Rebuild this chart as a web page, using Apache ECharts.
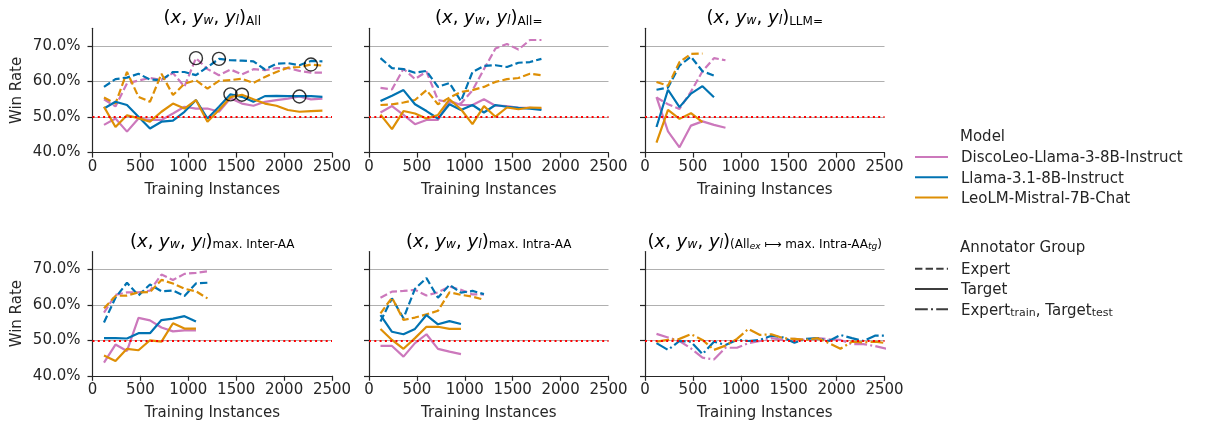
<!DOCTYPE html>
<html>
<head>
<meta charset="utf-8">
<script src="https://cdn.jsdelivr.net/npm/echarts@6/dist/echarts.min.js"></script>
<style>
  html, body { margin: 0; padding: 0; background: #fff; }
  #chart { width: 1210px; height: 429px; }
</style>
</head>
<body>
<div id="chart"></div>
<script>
// training set sizes (x positions of every point)
const xSteps = [120, 240, 360, 480, 600, 720, 840, 960, 1080, 1200, 1320, 1440, 1560, 1680, 1800, 1920, 2040, 2160, 2280, 2400, 2520];
const xTicks = [0, 500, 1000, 1500, 2000, 2500];
const yTicks = [40, 50, 60, 70];
const chanceLevel = 50;

const models = ['DiscoLeo-Llama-3-8B-Instruct', 'Llama-3.1-8B-Instruct', 'LeoLM-Mistral-7B-Chat'];
const groups = ['Expert', 'Target', 'Expert_train, Target_test'];

// (x, yw, yl)_All
const allDiscoExpert = [55.0, 53.0, 59.5, 60.3, 61.0, 60.5, 62.4, 58.6, 66.6, 63.5, 61.8, 63.4, 62.0, 63.5, 63.2, 63.8, 63.8, 63.0, 62.5, 62.5];
const allLlamaExpert = [58.5, 60.7, 61.1, 62.2, 60.6, 60.4, 62.7, 62.7, 61.8, 64.1, 66.4, 66.0, 65.9, 65.7, 63.4, 65.0, 65.2, 64.6, 65.8, 65.7];
const allLeoExpert = [55.5, 53.8, 62.7, 55.7, 54.3, 62.2, 56.2, 59.4, 60.4, 58.0, 60.2, 60.4, 60.8, 59.6, 61.3, 62.7, 63.9, 64.1, 64.8, 64.5];
const allDiscoTarget = [47.8, 49.6, 45.9, 49.6, 49.2, 49.2, 51.0, 52.9, 52.4, 52.4, 51.5, 55.3, 53.8, 53.2, 54.3, 54.8, 55.2, 55.8, 55.0, 55.2];
const allLlamaTarget = [52.4, 54.3, 53.4, 50.1, 46.8, 48.7, 49.0, 51.5, 54.8, 49.6, 52.9, 56.4, 55.7, 54.3, 55.9, 56.0, 55.9, 55.9, 55.9, 55.7];
const allLeoTarget = [52.9, 47.2, 50.5, 49.7, 48.7, 51.5, 53.8, 52.4, 54.8, 48.7, 52.0, 55.6, 56.3, 55.0, 53.8, 53.2, 52.0, 51.5, 51.7, 51.8];

// (x, yw, yl)_All=
const eqDiscoExpert = [58.2, 57.8, 63.6, 60.7, 62.8, 54.8, 54.2, 53.8, 57.5, 63.5, 69.3, 70.6, 69.0, 71.7, 71.7];
const eqLlamaExpert = [66.6, 63.8, 63.5, 62.5, 63.0, 58.5, 59.6, 54.5, 62.7, 64.4, 64.6, 64.1, 65.3, 65.5, 66.4];
const eqLeoExpert = [53.4, 53.6, 54.1, 54.8, 57.6, 53.6, 55.5, 57.1, 57.6, 58.5, 59.9, 60.7, 61.0, 62.2, 61.8];
const eqDiscoTarget = [51.3, 53.1, 50.6, 48.0, 49.2, 49.2, 54.5, 53.4, 53.4, 55.0, 53.2, 53.1, 52.6, 52.6, 52.4];
const eqLlamaTarget = [54.5, 56.0, 57.6, 53.6, 51.7, 49.6, 53.6, 52.0, 53.4, 51.3, 53.4, 52.9, 52.6, 52.4, 52.0];
const eqLeoTarget = [50.7, 46.6, 51.7, 51.0, 49.6, 50.6, 55.0, 52.2, 48.0, 53.1, 50.1, 52.7, 52.2, 52.7, 52.6];

// (x, yw, yl)_LLM=
const llmDiscoExpert = [55.5, 53.6, 52.3, 57.2, 62.9, 66.6, 66.0];
const llmLlamaExpert = [57.7, 58.3, 64.5, 67.0, 62.9, 61.7];
const llmLeoExpert = [59.9, 58.8, 65.5, 67.8, 67.9];
const llmDiscoTarget = [55.6, 46.0, 41.5, 47.6, 48.8, 47.8, 47.0];
const llmLlamaTarget = [47.2, 57.7, 52.8, 56.6, 58.7, 55.6];
const llmLeoTarget = [42.8, 52.0, 49.5, 51.1, 48.6];

// (x, yw, yl)_max. Inter-AA
const interDiscoExpert = [57.8, 62.8, 63.5, 63.5, 64.0, 68.5, 67.0, 68.7, 69.0, 69.4];
const interLlamaExpert = [55.0, 62.0, 66.2, 62.6, 65.7, 63.8, 64.0, 62.5, 66.0, 66.2];
const interLeoExpert = [59.0, 62.5, 62.6, 63.5, 63.6, 67.0, 66.0, 64.5, 63.8, 61.8];
const interDiscoTarget = [43.7, 48.8, 47.0, 56.3, 55.6, 53.6, 52.5, 52.8, 52.8];
const interLlamaTarget = [50.6, 50.6, 50.5, 52.0, 52.0, 55.7, 56.1, 56.8, 55.3];
const interLeoTarget = [45.7, 44.2, 47.6, 47.2, 50.0, 49.6, 54.8, 53.3, 53.3];

// (x, yw, yl)_max. Intra-AA
const intraDiscoExpert = [62.0, 63.7, 63.9, 64.2, 62.6, 63.5, 65.1, 64.2, 62.9, 62.9];
const intraLlamaExpert = [55.3, 61.8, 56.2, 64.5, 67.5, 62.0, 65.6, 63.4, 63.9, 63.0];
const intraLeoExpert = [57.6, 62.0, 55.7, 56.4, 57.3, 58.3, 63.5, 62.8, 62.3, 61.4];
const intraDiscoTarget = [48.4, 48.4, 45.4, 49.2, 51.7, 47.6, 46.8, 46.1];
const intraLlamaTarget = [57.1, 52.4, 51.7, 53.2, 57.1, 54.5, 55.4, 54.6];
const intraLeoTarget = [53.2, 50.1, 47.6, 50.6, 53.8, 53.8, 53.2, 53.2];

// (x, yw, yl)_(All_ex -> max. Intra-AA_tg)
const crossDisco = [51.8, 50.8, 49.8, 47.7, 45.1, 44.6, 47.9, 47.9, 49.2, 49.8, 50.6, 50.1, 50.4, 50.1, 50.6, 50.3, 50.1, 48.9, 48.9, 48.4, 47.6];
const crossLlama = [49.2, 47.3, 49.8, 49.6, 46.1, 49.6, 48.7, 50.1, 49.8, 50.1, 51.3, 50.8, 49.3, 50.4, 50.6, 49.8, 51.5, 50.6, 49.8, 51.3, 51.3];
const crossLeo = [49.6, 50.1, 50.4, 51.7, 50.1, 47.3, 48.5, 50.4, 53.2, 51.5, 51.7, 50.6, 50.4, 50.1, 50.6, 49.2, 47.6, 49.6, 49.4, 49.6, 49.2];

const F = 'DejaVu Sans';
const INK = '#262626';
const colors = ['#cc78bc', '#0173b2', '#de8f05'];
const dashes = { expert: [7.4, 3.2], target: 'solid', cross: [12.8, 3.2, 2, 3.2] };

const head = '{p|(}{i|x}{p|, }{i|y}{si|w}{p|, }{i|y}{si|l}{p|)}';
const panels = [
    { title: head + '{s|All}', circles: true,
      lines: [[allDiscoExpert, 0, 'expert'], [allLlamaExpert, 1, 'expert'], [allLeoExpert, 2, 'expert'],
              [allDiscoTarget, 0, 'target'], [allLlamaTarget, 1, 'target'], [allLeoTarget, 2, 'target']] },
    { title: head + '{s|All=}',
      lines: [[eqDiscoExpert, 0, 'expert'], [eqLlamaExpert, 1, 'expert'], [eqLeoExpert, 2, 'expert'],
              [eqDiscoTarget, 0, 'target'], [eqLlamaTarget, 1, 'target'], [eqLeoTarget, 2, 'target']] },
    { title: head + '{s|LLM=}',
      lines: [[llmDiscoExpert, 0, 'expert'], [llmLlamaExpert, 1, 'expert'], [llmLeoExpert, 2, 'expert'],
              [llmDiscoTarget, 0, 'target'], [llmLlamaTarget, 1, 'target'], [llmLeoTarget, 2, 'target']] },
    { title: head + '{s|max. Inter-AA}',
      lines: [[interDiscoExpert, 0, 'expert'], [interLlamaExpert, 1, 'expert'], [interLeoExpert, 2, 'expert'],
              [interDiscoTarget, 0, 'target'], [interLlamaTarget, 1, 'target'], [interLeoTarget, 2, 'target']] },
    { title: head + '{s|max. Intra-AA}',
      lines: [[intraDiscoExpert, 0, 'expert'], [intraLlamaExpert, 1, 'expert'], [intraLeoExpert, 2, 'expert'],
              [intraDiscoTarget, 0, 'target'], [intraLlamaTarget, 1, 'target'], [intraLeoTarget, 2, 'target']] },
    { title: head + '{s|(All}{ss|ex}{s| \u27FC max. Intra-AA}{ss|tg}{s|)}',
      lines: [[crossDisco, 0, 'cross'], [crossLlama, 1, 'cross'], [crossLeo, 2, 'cross']] }
];

const titleRich = {
    p: { fontFamily: F, fontSize: 18, lineHeight: 26, color: INK, verticalAlign: 'bottom' },
    i: { fontFamily: F, fontSize: 18, lineHeight: 26, color: INK, fontStyle: 'italic', verticalAlign: 'bottom' },
    si: { fontFamily: F, fontSize: 12.5, lineHeight: 17, color: INK, fontStyle: 'italic', verticalAlign: 'bottom' },
    s: { fontFamily: F, fontSize: 12, lineHeight: 17, color: INK, verticalAlign: 'bottom' },
    ss: { fontFamily: F, fontSize: 9, lineHeight: 8, color: INK, fontStyle: 'italic', verticalAlign: 'bottom' }
};

const gridLefts = [92.5, 369, 645];
const gridTops = [28.3, 251.5];
const gridW = 239.5, gridH = 124.3;

const grids = [], xAxes = [], yAxes = [], series = [], graphics = [];

panels.forEach(function (p, idx) {
    const col = idx % 3, row = Math.floor(idx / 3);
    grids.push({ left: gridLefts[col], top: gridTops[row], width: gridW, height: gridH,
                 containLabel: false, outerBoundsMode: 'none' });
    xAxes.push({
        gridIndex: idx, type: 'value', min: 0, max: 2500, interval: 500,
        axisLine: { show: true, onZero: false, lineStyle: { color: INK, width: 1.2 } },
        axisTick: { show: true, length: 5, lineStyle: { color: INK, width: 1.2 }, customValues: xTicks },
        axisLabel: { color: INK, fontFamily: F, fontSize: 15, margin: 7, customValues: xTicks,
                     formatter: function (v) { return String(v); } },
        splitLine: { show: false },
        name: 'Training Instances', nameLocation: 'middle', nameGap: 30,
        nameTextStyle: { color: INK, fontFamily: F, fontSize: 15 }
    });
    yAxes.push({
        gridIndex: idx, type: 'value', min: 40, max: 75,
        axisLine: { show: true, lineStyle: { color: INK, width: 1.2 } },
        axisTick: { show: true, length: 5, lineStyle: { color: INK, width: 1.2 }, customValues: yTicks },
        axisLabel: { show: col === 0, color: INK, fontFamily: F, fontSize: 15, margin: 12,
                     customValues: yTicks, formatter: function (v) { return v.toFixed(1) + '%'; } },
        splitLine: { show: true, lineStyle: { color: '#b0b0b0', width: 1 } },
        name: col === 0 ? 'Win Rate' : '', nameLocation: 'middle', nameGap: 68,
        nameTextStyle: { color: INK, fontFamily: F, fontSize: 15 }
    });

    const marks = [];
    p.lines.forEach(function (ln, k) {
        const vals = ln[0], m = ln[1], style = ln[2];
        series.push({
            type: 'line', name: 'p' + idx + '-' + k, xAxisIndex: idx, yAxisIndex: idx,
            data: vals.map(function (v, i) { return [xSteps[i], v]; }),
            symbol: 'none', showSymbol: false, clip: true, z: 2,
            lineStyle: { color: colors[m], width: 2.2, type: dashes[style] },
            itemStyle: { color: colors[m] }, silent: true
        });
        if (p.circles) {
            let best = 0;
            vals.forEach(function (v, i) { if (v > vals[best]) best = i; });
            marks.push([xSteps[best], vals[best]]);
        }
    });

    // 50% reference line
    series.push({
        type: 'line', name: 'chance' + idx, xAxisIndex: idx, yAxisIndex: idx, data: [], z: 4,
        markLine: {
            silent: true, symbol: 'none', label: { show: false },
            lineStyle: { color: '#ff0000', width: 2, type: [2, 3.3] },
            data: [{ yAxis: chanceLevel }]
        }
    });

    if (marks.length) {
        series.push({
            type: 'scatter', name: 'best' + idx, xAxisIndex: idx, yAxisIndex: idx, data: marks, z: 6,
            symbol: 'circle', symbolSize: 13, silent: true,
            itemStyle: { color: 'rgba(0,0,0,0)', borderColor: '#000', borderWidth: 1.4 }
        });
    }

    graphics.push({
        type: 'text', x: gridLefts[col] + gridW / 2, y: row === 0 ? 14.5 : 238,
        style: { text: p.title, rich: titleRich, align: 'center', verticalAlign: 'middle' }
    });
});

// legend-only series
models.forEach(function (name, m) {
    series.push({ type: 'line', name: name, data: [], xAxisIndex: 0, yAxisIndex: 0, symbol: 'none',
                  lineStyle: { color: colors[m], width: 2.2, type: 'solid' }, itemStyle: { color: colors[m] } });
});
const groupStyles = [dashes.expert, dashes.target, dashes.cross];
groups.forEach(function (name, g) {
    series.push({ type: 'line', name: name, data: [], xAxisIndex: 0, yAxisIndex: 0, symbol: 'none',
                  lineStyle: { color: '#3d3d3d', width: 2.2, type: groupStyles[g] }, itemStyle: { color: '#3d3d3d' } });
});

graphics.push({ type: 'text', x: 960, y: 137,
    style: { text: 'Model', fontFamily: F, fontSize: 15, fill: INK, align: 'left', verticalAlign: 'middle' } });
graphics.push({ type: 'text', x: 960, y: 248.3,
    style: { text: 'Annotator Group', fontFamily: F, fontSize: 15, fill: INK, align: 'left', verticalAlign: 'middle' } });

const legendRich = {
    t: { fontFamily: F, fontSize: 15, color: INK, lineHeight: 18, padding: [0, 0, 0, 8], verticalAlign: 'bottom' },
    u: { fontFamily: F, fontSize: 15, color: INK, lineHeight: 18, verticalAlign: 'bottom' },
    d: { fontFamily: F, fontSize: 11, color: INK, lineHeight: 12, verticalAlign: 'bottom' }
};
function legendLabel(name) {
    if (name === 'Expert_train, Target_test') {
        return '{t|Expert}{d|train}{u|, Target}{d|test}';
    }
    return '{t|' + name + '}';
}
const legendBase = {
    orient: 'vertical', left: 914, padding: 0, itemWidth: 33, itemHeight: 14, itemGap: 5.3,
    selectedMode: false, formatter: legendLabel,
    itemStyle: { opacity: 0 },
    textStyle: { fontFamily: F, fontSize: 15, color: INK, rich: legendRich }
};

const chart = echarts.init(document.getElementById('chart'), null, { renderer: 'canvas' });
chart.setOption({
    animation: false,
    backgroundColor: '#ffffff',
    grid: grids,
    xAxis: xAxes,
    yAxis: yAxes,
    legend: [
        Object.assign({}, legendBase, { top: 151, data: models }),
        Object.assign({}, legendBase, { top: 262.7, data: groups })
    ],
    graphic: graphics,
    series: series
});
</script>
</body>
</html>
